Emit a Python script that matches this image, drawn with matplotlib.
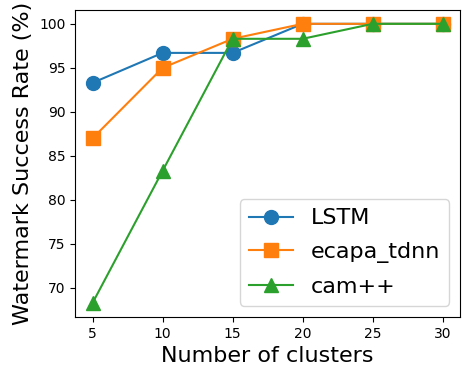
import matplotlib
matplotlib.use('Agg')
import matplotlib.pyplot as plt

clusters = [5, 10, 15, 20, 25, 30]
lstm = [93.3, 96.7, 96.7, 100, 100, 100]
ecapa_tdnn = [87.0, 95.0, 98.3, 100, 100, 100]
cam_pp = [68.3, 83.3, 98.3, 98.3, 100, 100]

fig, ax = plt.subplots(figsize=(4.72, 3.8), dpi=100)
ax.plot(clusters, lstm, marker='o', markersize=10, label='LSTM')
ax.plot(clusters, ecapa_tdnn, marker='s', markersize=10, label='ecapa_tdnn')
ax.plot(clusters, cam_pp, marker='^', markersize=10, label='cam++')
ax.set_xlabel('Number of clusters', fontsize=16)
ax.set_ylabel('Watermark Success Rate (%)', fontsize=16)
ax.legend(fontsize=16, loc='lower right', labelspacing=0.62)
fig.subplots_adjust(left=0.159, right=0.975, top=0.974, bottom=0.166)
fig.savefig('out.png', dpi=100)
